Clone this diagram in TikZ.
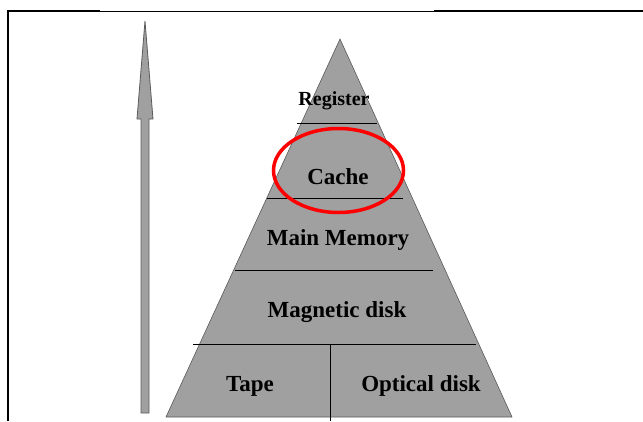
\documentclass[tikz,border=0pt]{standalone}
\usepackage{fontspec}
\setmainfont{Liberation Serif}
\usetikzlibrary{positioning}

\definecolor{pyrgray}{RGB}{160,160,160}
\definecolor{edgegray}{RGB}{90,90,90}

\begin{document}
\begin{tikzpicture}[x=1pt,y=-1pt,
	level/.style={font=\bfseries\fontsize{23}{25}\selectfont,inner sep=0pt},
	frame/.style={line width=2.2pt,black},
	divider/.style={line width=0.8pt,black}]
	\useasboundingbox (0,0) rectangle (643,421);

	\draw[frame] (8,421) -- (8,11) -- (100,11);
	\draw[line width=1pt] (100,11) -- (434,11);
	\draw[frame] (434,11) -- (643,11);

	\draw[fill=pyrgray,draw=edgegray,line width=0.8pt]
		(145,21) -- (153,119) -- (149,119) -- (149,413) -- (141,413) -- (141,119) -- (137,119) -- cycle;

	\draw[fill=pyrgray,draw=edgegray,line width=0.6pt]
		(340,39) -- (512,417) -- (166,417) -- cycle;

	\draw[divider] (297,123) -- (377,123);
	\draw[divider] (267,198) -- (403,198);
	\draw[divider] (235,270) -- (433,270);
	\draw[divider] (193,344) -- (476,344);
	\draw[divider] (330,344) -- (330,421);

	\begin{scope}[every node/.style={level}]
		\node[font=\bfseries\fontsize{20}{22}\selectfont] (register) at (334,101) {Register};
		\node (cache) at (338,177) {Cache};
		\node (mainmem) at (338,240) {Main Memory};
		\node (magdisk) at (337,312) {Magnetic disk};
		\node (tape) at (250,386) {Tape};
		\node (optdisk) at (421,386) {Optical disk};
	\end{scope}

	\draw[red,line width=3.5pt] (338.5,170.5) ellipse [x radius=65, y radius=42];
\end{tikzpicture}
\end{document}
